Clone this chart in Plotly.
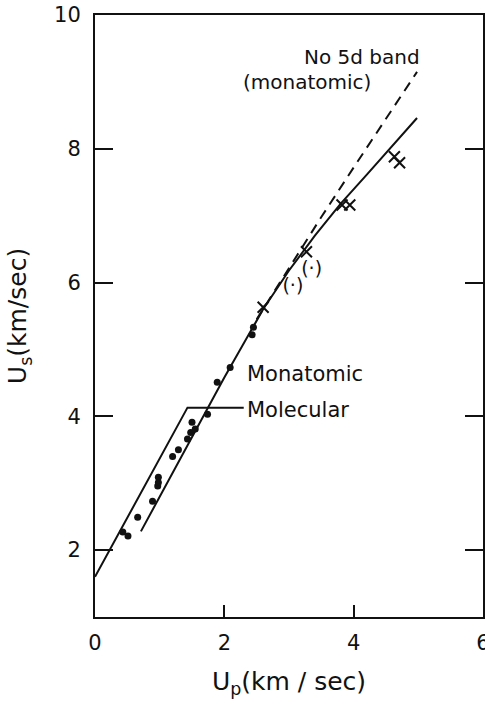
import plotly.graph_objects as go

# ---- data ----
# Monatomic calculated Hugoniot (solid)
mono_up = [0.71, 1.71, 2.0, 2.6, 3.0, 3.4, 3.8, 4.2, 4.6, 4.98]
mono_us = [2.28, 4.07, 4.58, 5.60, 6.18, 6.70, 7.18, 7.61, 8.04, 8.46]

# No 5d band (monatomic), dashed
nod_up = [2.5, 3.0, 3.5, 4.0, 4.5, 4.98]
nod_us = [5.45, 6.22, 6.98, 7.72, 8.45, 9.15]

# Molecular band: left edge and top edge / leader
mol_up = [0.0, 1.43, 2.3]
mol_us = [1.6, 4.13, 4.13]

# Experimental points (filled circles)
dot_up = [0.43, 0.51, 0.66, 0.89, 0.98, 0.97, 0.98, 1.2, 1.29, 1.43, 1.48, 1.55, 1.5,
          1.74, 1.89, 2.09, 2.43, 2.45]
dot_us = [2.27, 2.21, 2.49, 2.73, 3.09, 2.96, 3.01, 3.40, 3.5, 3.66, 3.76, 3.81, 3.91,
          4.03, 4.51, 4.73, 5.22, 5.33]

# Crosses
x_up = [2.6, 3.27, 3.82, 3.94, 4.63, 4.71]
x_us = [5.63, 6.46, 7.16, 7.16, 7.88, 7.79]

# Uncertain points in parentheses
par_up = [3.06, 3.35]
par_us = [5.93, 6.19]

x_ticks = [0, 2, 4, 6]
y_ticks = [2, 4, 6, 8, 10]

FONT = "DejaVu Sans"
BLACK = "#111111"

fig = go.Figure()
fig.add_trace(go.Scatter(x=mono_up, y=mono_us, mode="lines", line=dict(color=BLACK, width=2),
                         hoverinfo="skip"))
fig.add_trace(go.Scatter(x=nod_up, y=nod_us, mode="lines",
                         line=dict(color=BLACK, width=2, dash="10px,7px"), hoverinfo="skip"))
fig.add_trace(go.Scatter(x=mol_up, y=mol_us, mode="lines", line=dict(color=BLACK, width=2), hoverinfo="skip"))
fig.add_trace(go.Scatter(x=dot_up, y=dot_us, mode="markers",
                         marker=dict(color=BLACK, size=7, symbol="circle"), hoverinfo="skip"))
fig.add_trace(go.Scatter(x=x_up, y=x_us, mode="markers",
                         marker=dict(color=BLACK, size=11, symbol="x-thin", line=dict(color=BLACK, width=2)),
                         hoverinfo="skip"))
fig.add_trace(go.Scatter(x=par_up, y=par_us, mode="text", text=["(·)", "(·)"],
                         textfont=dict(family=FONT, size=19, color=BLACK), hoverinfo="skip"))

fig.add_annotation(x=5.05, y=9.37, text="No 5d band", showarrow=False, xanchor="right",
                   font=dict(family=FONT, size=20, color=BLACK))
fig.add_annotation(x=3.28, y=9.0, text="(monatomic)", showarrow=False, xanchor="center",
                   font=dict(family=FONT, size=20, color=BLACK))
fig.add_annotation(x=2.32, y=4.63, text="Monatomic", showarrow=False, xanchor="left",
                   font=dict(family=FONT, size=21, color=BLACK))
fig.add_annotation(x=2.32, y=4.1, text="Molecular", showarrow=False, xanchor="left",
                   font=dict(family=FONT, size=21, color=BLACK))

fig.update_layout(
    width=485, height=706,
    margin=dict(l=95, r=2, t=15, b=89, autoexpand=False),
    paper_bgcolor="white", plot_bgcolor="white",
    showlegend=False,
    font=dict(family=FONT, color=BLACK),
    xaxis=dict(range=[0, 6], tickvals=x_ticks, ticks="inside", ticklen=12, tickwidth=2,
               tickcolor=BLACK, showline=True, linecolor=BLACK, linewidth=2, mirror=True,
               showgrid=False, zeroline=False, tickfont=dict(family=FONT, size=21, color=BLACK),
               ticklabelstandoff=6, automargin=False, ticklabeloverflow="allow",
               title=dict(text="U<sub>p</sub>(km / sec)", font=dict(family=FONT, size=25, color=BLACK),
                          standoff=18)),
    yaxis=dict(range=[1, 10], tickvals=y_ticks, ticks="inside", ticklen=18, tickwidth=2,
               tickcolor=BLACK, showline=True, linecolor=BLACK, linewidth=2, mirror="ticks",
               showgrid=False, zeroline=False, tickfont=dict(family=FONT, size=21, color=BLACK),
               ticklabelstandoff=8, automargin=False,
               title=dict(text="U<sub>s</sub>(km/sec)", font=dict(family=FONT, size=25, color=BLACK),
                          standoff=20)),
)

fig.write_html("out.html", config={"displayModeBar": False},
               post_script="document.body.style.margin='0';document.body.style.overflow='hidden';")
